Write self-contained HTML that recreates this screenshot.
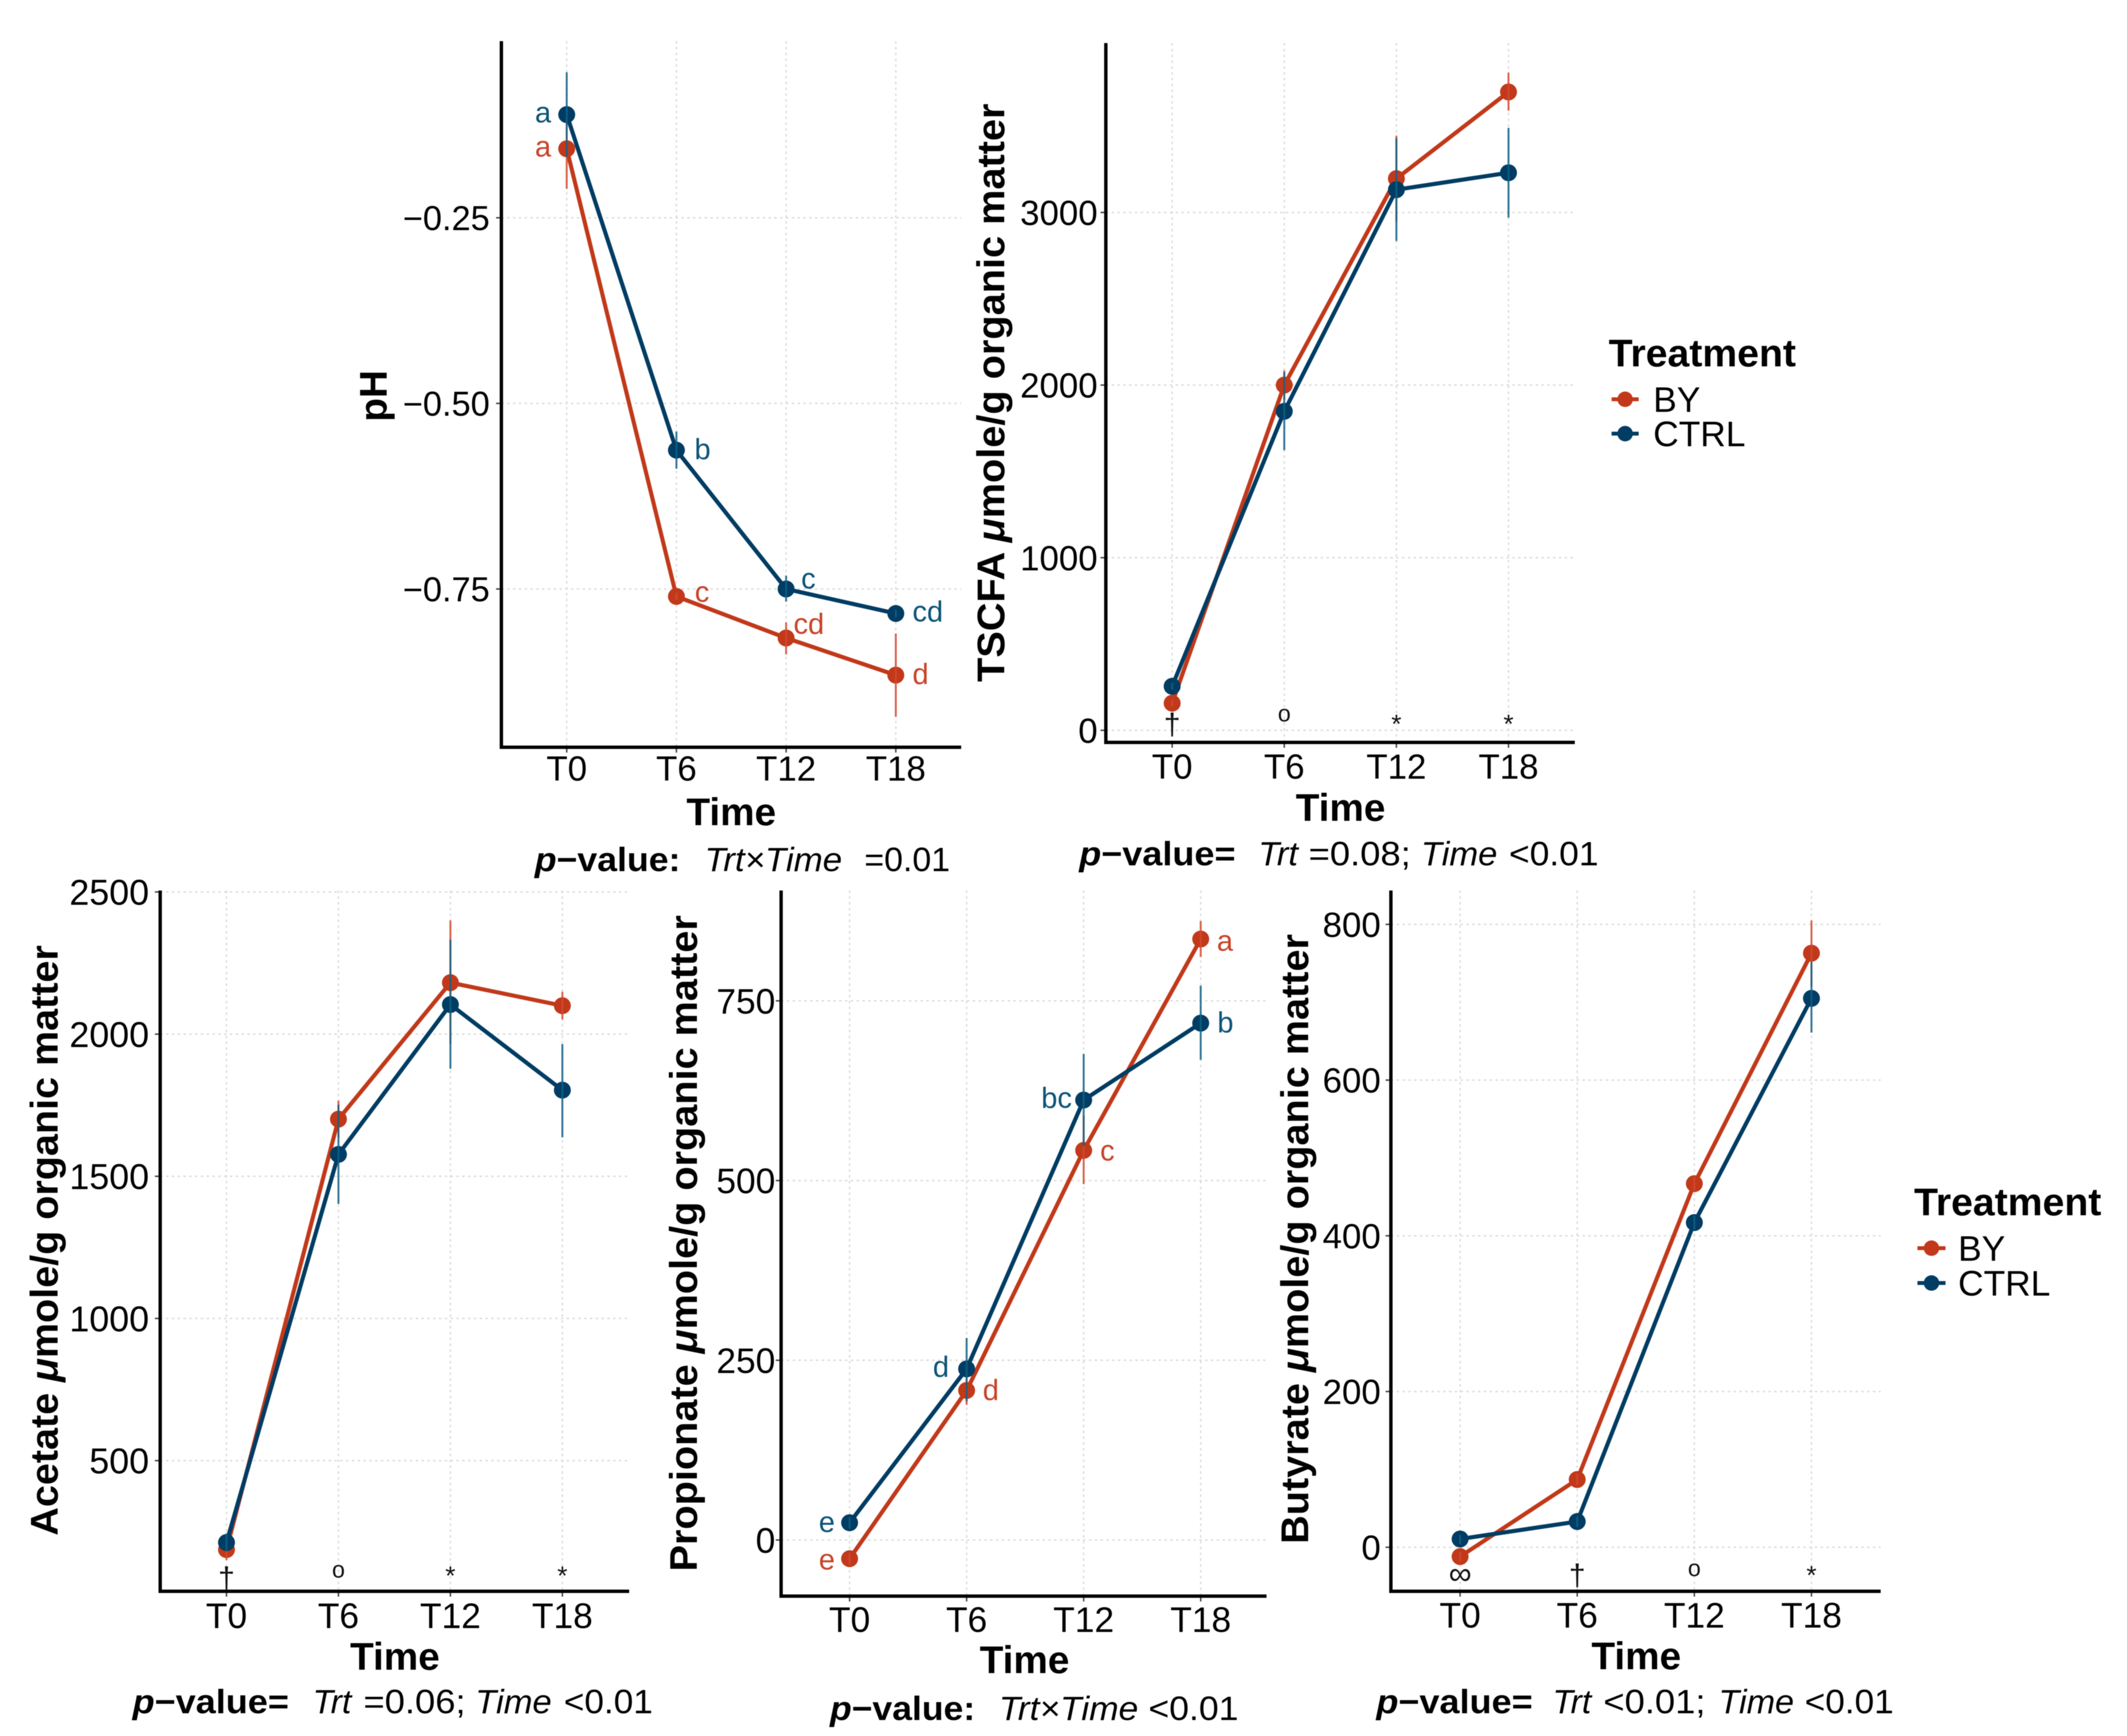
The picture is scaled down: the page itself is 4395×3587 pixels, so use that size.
<!DOCTYPE html>
<html lang="en">
<head>
<meta charset="utf-8">
<title>SCFA and pH over time by treatment</title>
<style>
html,body{margin:0;padding:0;background:#fff;}
svg{display:block;font-family:"Liberation Sans",sans-serif;filter:blur(0.8px);}
</style>
</head>
<body>
<svg id="figure" xmlns="http://www.w3.org/2000/svg" width="4395" height="3587" viewBox="0 0 4395 3587">
<rect x="0" y="0" width="4395" height="3587" fill="#fff"/>
<g id="panels"></g>

<!-- Axis titles -->
<g font-weight="700" font-size="80" fill="#000">
  <text transform="translate(799,818) rotate(-90)" text-anchor="middle">pH</text>
  <text transform="translate(2075,1409) rotate(-90)" textLength="1195" lengthAdjust="spacingAndGlyphs">TSCFA <tspan font-style="italic">μ</tspan>mole/g organic matter</text>
  <text transform="translate(119,3173) rotate(-90)" textLength="1220" lengthAdjust="spacingAndGlyphs">Acetate <tspan font-style="italic">μ</tspan>mole/g organic matter</text>
  <text transform="translate(1440,3247) rotate(-90)" textLength="1356" lengthAdjust="spacingAndGlyphs">Propionate <tspan font-style="italic">μ</tspan>mole/g organic matter</text>
  <text transform="translate(2703,3190) rotate(-90)" textLength="1260" lengthAdjust="spacingAndGlyphs">Butyrate <tspan font-style="italic">μ</tspan>mole/g organic matter</text>
  <text x="1511" y="1705" text-anchor="middle">Time</text>
  <text x="2770" y="1696" text-anchor="middle">Time</text>
  <text x="816" y="3450" text-anchor="middle">Time</text>
  <text x="2117" y="3457" text-anchor="middle">Time</text>
  <text x="3381" y="3449" text-anchor="middle">Time</text>
</g>

<!-- p-value captions -->
<g font-size="70" fill="#000">
  <text x="1105" y="1800" font-weight="700" textLength="301" lengthAdjust="spacingAndGlyphs"><tspan font-style="italic">p</tspan>−value:</text>
  <text x="1456" y="1800" font-style="italic" textLength="284" lengthAdjust="spacingAndGlyphs">Trt×Time</text>
  <text x="1786" y="1800" textLength="177" lengthAdjust="spacingAndGlyphs">=0.01</text>
</g>
<g font-size="70" fill="#000">
  <text x="2230" y="1788" font-weight="700" textLength="323" lengthAdjust="spacingAndGlyphs"><tspan font-style="italic">p</tspan>−value=</text>
  <text x="2600" y="1788" font-style="italic" textLength="82" lengthAdjust="spacingAndGlyphs">Trt</text>
  <text x="2704" y="1788" textLength="211" lengthAdjust="spacingAndGlyphs">=0.08;</text>
  <text x="2936" y="1788" font-style="italic" textLength="158" lengthAdjust="spacingAndGlyphs">Time</text>
  <text x="3118" y="1788" textLength="185" lengthAdjust="spacingAndGlyphs">&lt;0.01</text>
</g>
<g font-size="70" fill="#000">
  <text x="274" y="3540" font-weight="700" textLength="323" lengthAdjust="spacingAndGlyphs"><tspan font-style="italic">p</tspan>−value=</text>
  <text x="646" y="3540" font-style="italic" textLength="80" lengthAdjust="spacingAndGlyphs">Trt</text>
  <text x="751" y="3540" textLength="211" lengthAdjust="spacingAndGlyphs">=0.06;</text>
  <text x="982" y="3540" font-style="italic" textLength="158" lengthAdjust="spacingAndGlyphs">Time</text>
  <text x="1165" y="3540" textLength="184" lengthAdjust="spacingAndGlyphs">&lt;0.01</text>
</g>
<g font-size="70" fill="#000">
  <text x="1715" y="3554" font-weight="700" textLength="300" lengthAdjust="spacingAndGlyphs"><tspan font-style="italic">p</tspan>−value:</text>
  <text x="2064" y="3554" font-style="italic" textLength="288" lengthAdjust="spacingAndGlyphs">Trt×Time</text>
  <text x="2373" y="3554" textLength="186" lengthAdjust="spacingAndGlyphs">&lt;0.01</text>
</g>
<g font-size="70" fill="#000">
  <text x="2844" y="3540" font-weight="700" textLength="323" lengthAdjust="spacingAndGlyphs"><tspan font-style="italic">p</tspan>−value=</text>
  <text x="3208" y="3540" font-style="italic" textLength="80" lengthAdjust="spacingAndGlyphs">Trt</text>
  <text x="3313" y="3540" textLength="211" lengthAdjust="spacingAndGlyphs">&lt;0.01;</text>
  <text x="3551" y="3540" font-style="italic" textLength="156" lengthAdjust="spacingAndGlyphs">Time</text>
  <text x="3729" y="3540" textLength="184" lengthAdjust="spacingAndGlyphs">&lt;0.01</text>
</g>

<!-- Legends -->
<g>
  <text x="3324" y="757" font-size="80" font-weight="700" textLength="387" lengthAdjust="spacingAndGlyphs">Treatment</text>
  <g>
    <line x1="3330" x2="3386" y1="825" y2="825" stroke="#c1391a" stroke-width="8"/>
    <circle cx="3358" cy="825" r="16" fill="#c1391a"/>
    <text x="3416" y="851" font-size="73">BY</text>
  </g>
  <g>
    <line x1="3330" x2="3386" y1="896" y2="896" stroke="#003c63" stroke-width="8"/>
    <circle cx="3358" cy="896" r="16" fill="#003c63"/>
    <text x="3416" y="922" font-size="73">CTRL</text>
  </g>
</g>
<g>
  <text x="3955" y="2511" font-size="80" font-weight="700" textLength="387" lengthAdjust="spacingAndGlyphs">Treatment</text>
  <g>
    <line x1="3962" x2="4020" y1="2579" y2="2579" stroke="#c1391a" stroke-width="8"/>
    <circle cx="3991" cy="2579" r="16" fill="#c1391a"/>
    <text x="4046" y="2605" font-size="73">BY</text>
  </g>
  <g>
    <line x1="3962" x2="4020" y1="2651" y2="2651" stroke="#003c63" stroke-width="8"/>
    <circle cx="3991" cy="2651" r="16" fill="#003c63"/>
    <text x="4046" y="2677" font-size="73">CTRL</text>
  </g>
</g>
</svg>

<script>
// ---------- Data ----------
const categories = ['T0', 'T6', 'T12', 'T18'];

const phTickValues = [-0.25, -0.5, -0.75];
const phTickLabels = ['−0.25', '−0.50', '−0.75'];
const phBY = [-0.157, -0.76, -0.816, -0.866];
const phCTRL = [-0.111, -0.563, -0.75, -0.783];
const phBYLow = [-0.211, -0.765, -0.838, -0.922];
const phBYHigh = [-0.103, -0.755, -0.795, -0.81];
const phCTRLLow = [-0.168, -0.588, -0.767, -0.788];
const phCTRLHigh = [-0.054, -0.538, -0.732, -0.778];
const phBYLetters = ['a', 'c', 'cd', 'd'];
const phCTRLLetters = ['a', 'b', 'c', 'cd'];

const tscfaTickValues = [0, 1000, 2000, 3000];
const tscfaTickLabels = ['0', '1000', '2000', '3000'];
const tscfaBY = [157, 2000, 3196, 3698];
const tscfaCTRL = [255, 1848, 3132, 3230];
const tscfaBYLow = [140, 1915, 2946, 3590];
const tscfaBYHigh = [175, 2085, 3445, 3810];
const tscfaCTRLLow = [235, 1623, 2835, 2970];
const tscfaCTRLHigh = [275, 2075, 3430, 3490];
const tscfaSig = ['†', 'o', '*', '*'];

const acetateTickValues = [500, 1000, 1500, 2000, 2500];
const acetateTickLabels = ['500', '1000', '1500', '2000', '2500'];
const acetateBY = [187, 1701, 2181, 2100];
const acetateCTRL = [212, 1577, 2104, 1803];
const acetateBYLow = [150, 1636, 1965, 2052];
const acetateBYHigh = [224, 1766, 2400, 2149];
const acetateCTRLLow = [180, 1403, 1878, 1637];
const acetateCTRLHigh = [244, 1752, 2332, 1965];
const acetateSig = ['†', 'o', '*', '*'];

const propionateTickValues = [0, 250, 500, 750];
const propionateTickLabels = ['0', '250', '500', '750'];
const propionateBY = [-26, 208, 542, 836];
const propionateCTRL = [24, 238, 612, 719];
const propionateBYLow = [-34, 188, 495, 811];
const propionateBYHigh = [-18, 228, 590, 861];
const propionateCTRLLow = [16, 193, 548, 668];
const propionateCTRLHigh = [32, 281, 676, 771];
const propionateBYLetters = ['e', 'd', 'c', 'a'];
const propionateCTRLLetters = ['e', 'd', 'bc', 'b'];

const butyrateTickValues = [0, 200, 400, 600, 800];
const butyrateTickLabels = ['0', '200', '400', '600', '800'];
const butyrateBY = [-12, 87, 467, 763];
const butyrateCTRL = [10.6, 33, 417, 705];
const butyrateBYLow = [-18, 80, 458, 720];
const butyrateBYHigh = [-6, 94, 476, 805];
const butyrateCTRLLow = [4, 26, 408, 661];
const butyrateCTRLHigh = [16, 40, 426, 752];
const butyrateSig = ['∞', '†', 'o', '*'];

// ---------- Layout (panel geometry, separate from data) ----------
const BY_COLOR = '#c1391a', CTRL_COLOR = '#003c63';
const BY_BAR = '#d4492f', CTRL_BAR = '#0f5f85';
const BY_TEXT = '#c8442a', CTRL_TEXT = '#0d5578';

const panels = [
  { id: 'ph', left: 1036, right: 1986, top: 85, bottom: 1544, firstCat: 1171, lastCat: 1851,
    refVal: [-0.25, -0.75], refPx: [450, 1217], tickFont: 71, tickGap: 24, xLabelY: 1613, catFont: 72,
    ticks: phTickValues, tickLabels: phTickLabels, by: phBY, ctrl: phCTRL,
    byLow: phBYLow, byHigh: phBYHigh, ctrlLow: phCTRLLow, ctrlHigh: phCTRLHigh,
    byLetters: phBYLetters, ctrlLetters: phCTRLLetters, letterFont: 60,
    byLetterDx: [-49, 53, 47, 51], byLetterDy: [0, -5, -25, 2],
    ctrlLetterDx: [-49, 54, 46, 66], ctrlLetterDy: [0, 2, -17, 0] },
  { id: 'tscfa', left: 2285, right: 3254, top: 89, bottom: 1534, firstCat: 2422, lastCat: 3117,
    refVal: [0, 3000], refPx: [1509, 439], tickFont: 72, tickGap: 17, xLabelY: 1609, catFont: 72,
    ticks: tscfaTickValues, tickLabels: tscfaTickLabels, by: tscfaBY, ctrl: tscfaCTRL,
    byLow: tscfaBYLow, byHigh: tscfaBYHigh, ctrlLow: tscfaCTRLLow, ctrlHigh: tscfaCTRLHigh,
    sig: tscfaSig, sigCenter: [1495, 1478, 1487, 1487] },
  { id: 'acetate', left: 331, right: 1300, top: 1840, bottom: 3288, firstCat: 468, lastCat: 1162,
    refVal: [500, 2500], refPx: [3018, 1843], tickFont: 74, tickGap: 23, xLabelY: 3364, catFont: 73,
    ticks: acetateTickValues, tickLabels: acetateTickLabels, by: acetateBY, ctrl: acetateCTRL,
    byLow: acetateBYLow, byHigh: acetateBYHigh, ctrlLow: acetateCTRLLow, ctrlHigh: acetateCTRLHigh,
    sig: acetateSig, sigCenter: [3259, 3247, 3247, 3247] },
  { id: 'propionate', left: 1614, right: 2617, top: 1840, bottom: 3298, firstCat: 1755.5, lastCat: 2481,
    refVal: [0, 750], refPx: [3182, 2068], tickFont: 73, tickGap: 12, xLabelY: 3372, catFont: 73,
    ticks: propionateTickValues, tickLabels: propionateTickLabels, by: propionateBY, ctrl: propionateCTRL,
    byLow: propionateBYLow, byHigh: propionateBYHigh, ctrlLow: propionateCTRLLow, ctrlHigh: propionateCTRLHigh,
    byLetters: propionateBYLetters, ctrlLetters: propionateCTRLLetters, letterFont: 60,
    byLetterDx: [-47, 50, 49, 50], byLetterDy: [6, 3, 5, 8],
    ctrlLetterDx: [-47, -53, -56, 51], ctrlLetterDy: [3, 0, 0, 3] },
  { id: 'butyrate', left: 2874, right: 3886, top: 1840, bottom: 3288, firstCat: 3017, lastCat: 3743,
    refVal: [0, 800], refPx: [3197, 1910], tickFont: 72, tickGap: 21, xLabelY: 3363, catFont: 73,
    ticks: butyrateTickValues, tickLabels: butyrateTickLabels, by: butyrateBY, ctrl: butyrateCTRL,
    byLow: butyrateBYLow, byHigh: butyrateBYHigh, ctrlLow: butyrateCTRLLow, ctrlHigh: butyrateCTRLHigh,
    sig: butyrateSig, sigCenter: [3255, 3253, 3244, 3246] }
];

const NS = 'http://www.w3.org/2000/svg';
function make(parent, tag, props, content) {
  const el = document.createElementNS(NS, tag);
  Object.keys(props).forEach(function (k) { el.setAttribute(k, props[k]); });
  if (content !== undefined) el.textContent = content;
  parent.appendChild(el);
  return el;
}
function scaleY(p, v) {
  return p.refPx[0] + (v - p.refVal[0]) * (p.refPx[1] - p.refPx[0]) / (p.refVal[1] - p.refVal[0]);
}
function scaleX(p, i) {
  return p.firstCat + i * (p.lastCat - p.firstCat) / (categories.length - 1);
}

const sigStyle = {
  '†': { size: 62, dy: 0.36 },
  'o': { size: 48, dy: 0.26 },
  '*': { size: 54, dy: 0.50 },
  '∞': { size: 66, dy: 0.28 }
};

const root = document.getElementById('panels');

panels.forEach(function (p) {
  const g = make(root, 'g', {});
  
  

  // grid
  p.ticks.forEach(function (v) {
    const y = scaleY(p, v);
    const grid = make(g, 'line', { x1: p.left, x2: p.right, y1: y, y2: y, stroke: '#dcdcdc', 'stroke-width': 3, 'stroke-dasharray': '5 7' });
    
    
  });
  categories.forEach(function (c, i) {
    const x = scaleX(p, i);
    const grid = make(g, 'line', { x1: x, x2: x, y1: p.top, y2: p.bottom, stroke: '#dcdcdc', 'stroke-width': 3, 'stroke-dasharray': '5 7' });
    
    
  });

  // y ticks and labels
  p.ticks.forEach(function (v, i) {
    const y = scaleY(p, v);
    const tick = make(g, 'line', { x1: p.left - 11, x2: p.left, y1: y, y2: y, stroke: '#444', 'stroke-width': 3 });
    
    
    const label = make(g, 'text', { x: p.left - p.tickGap, y: y + p.tickFont * 0.36, 'text-anchor': 'end', 'font-size': p.tickFont, fill: '#000' }, p.tickLabels[i]);
    
    
  });

  // x ticks and labels
  categories.forEach(function (c, i) {
    const x = scaleX(p, i);
    const tick = make(g, 'line', { x1: x, x2: x, y1: p.bottom, y2: p.bottom + 11, stroke: '#444', 'stroke-width': 3 });
    
    
    const label = make(g, 'text', { x: x, y: p.xLabelY, 'text-anchor': 'middle', 'font-size': p.catFont, fill: '#000' }, c);
    
    
  });

  // axes
  const axis = make(g, 'path', { d: 'M' + p.left + ' ' + p.top + 'V' + p.bottom + 'H' + p.right, fill: 'none', stroke: '#000', 'stroke-width': 7 });
  
  

  // series
  const seriesList = [
    { key: 'by', vals: p.by, low: p.byLow, high: p.byHigh, color: BY_COLOR, bar: BY_BAR },
    { key: 'ctrl', vals: p.ctrl, low: p.ctrlLow, high: p.ctrlHigh, color: CTRL_COLOR, bar: CTRL_BAR }
  ];
  seriesList.forEach(function (s) {
    const sg = make(g, 'g', {});
    
    
    const pts = s.vals.map(function (v, i) { return scaleX(p, i) + ',' + scaleY(p, v); }).join(' ');
    const line = make(sg, 'polyline', { points: pts, fill: 'none', stroke: s.color, 'stroke-width': 8.5, 'stroke-linejoin': 'round' });
    
    
    s.vals.forEach(function (v, i) {
      const dot = make(sg, 'circle', { cx: scaleX(p, i), cy: scaleY(p, v), r: 17.5, fill: s.color });
      
      
    });
    s.vals.forEach(function (v, i) {
      const x = scaleX(p, i);
      const bar = make(sg, 'line', { x1: x, x2: x, y1: scaleY(p, s.low[i]), y2: scaleY(p, s.high[i]), stroke: s.bar, 'stroke-width': 4, 'stroke-opacity': 0.85 });
      
      
    });
  });

  // significance letters
  if (p.byLetters) {
    const letterSets = [
      { letters: p.byLetters, vals: p.by, dx: p.byLetterDx, dy: p.byLetterDy, color: BY_TEXT },
      { letters: p.ctrlLetters, vals: p.ctrl, dx: p.ctrlLetterDx, dy: p.ctrlLetterDy, color: CTRL_TEXT }
    ];
    letterSets.forEach(function (set) {
      set.letters.forEach(function (l, i) {
        const t = make(g, 'text', {
          x: scaleX(p, i) + set.dx[i],
          y: scaleY(p, set.vals[i]) + set.dy[i] + p.letterFont * 0.27,
          'text-anchor': 'middle', 'font-size': p.letterFont, fill: set.color
        }, l);
        
        
      });
    });
  }

  // significance markers
  if (p.sig) {
    p.sig.forEach(function (m, i) {
      const st = sigStyle[m];
      const t = make(g, 'text', {
        x: scaleX(p, i), y: p.sigCenter[i] + st.size * st.dy,
        'text-anchor': 'middle', 'font-size': st.size, fill: '#111'
      }, m);
      
      
    });
  }
});
</script>
</body>
</html>
